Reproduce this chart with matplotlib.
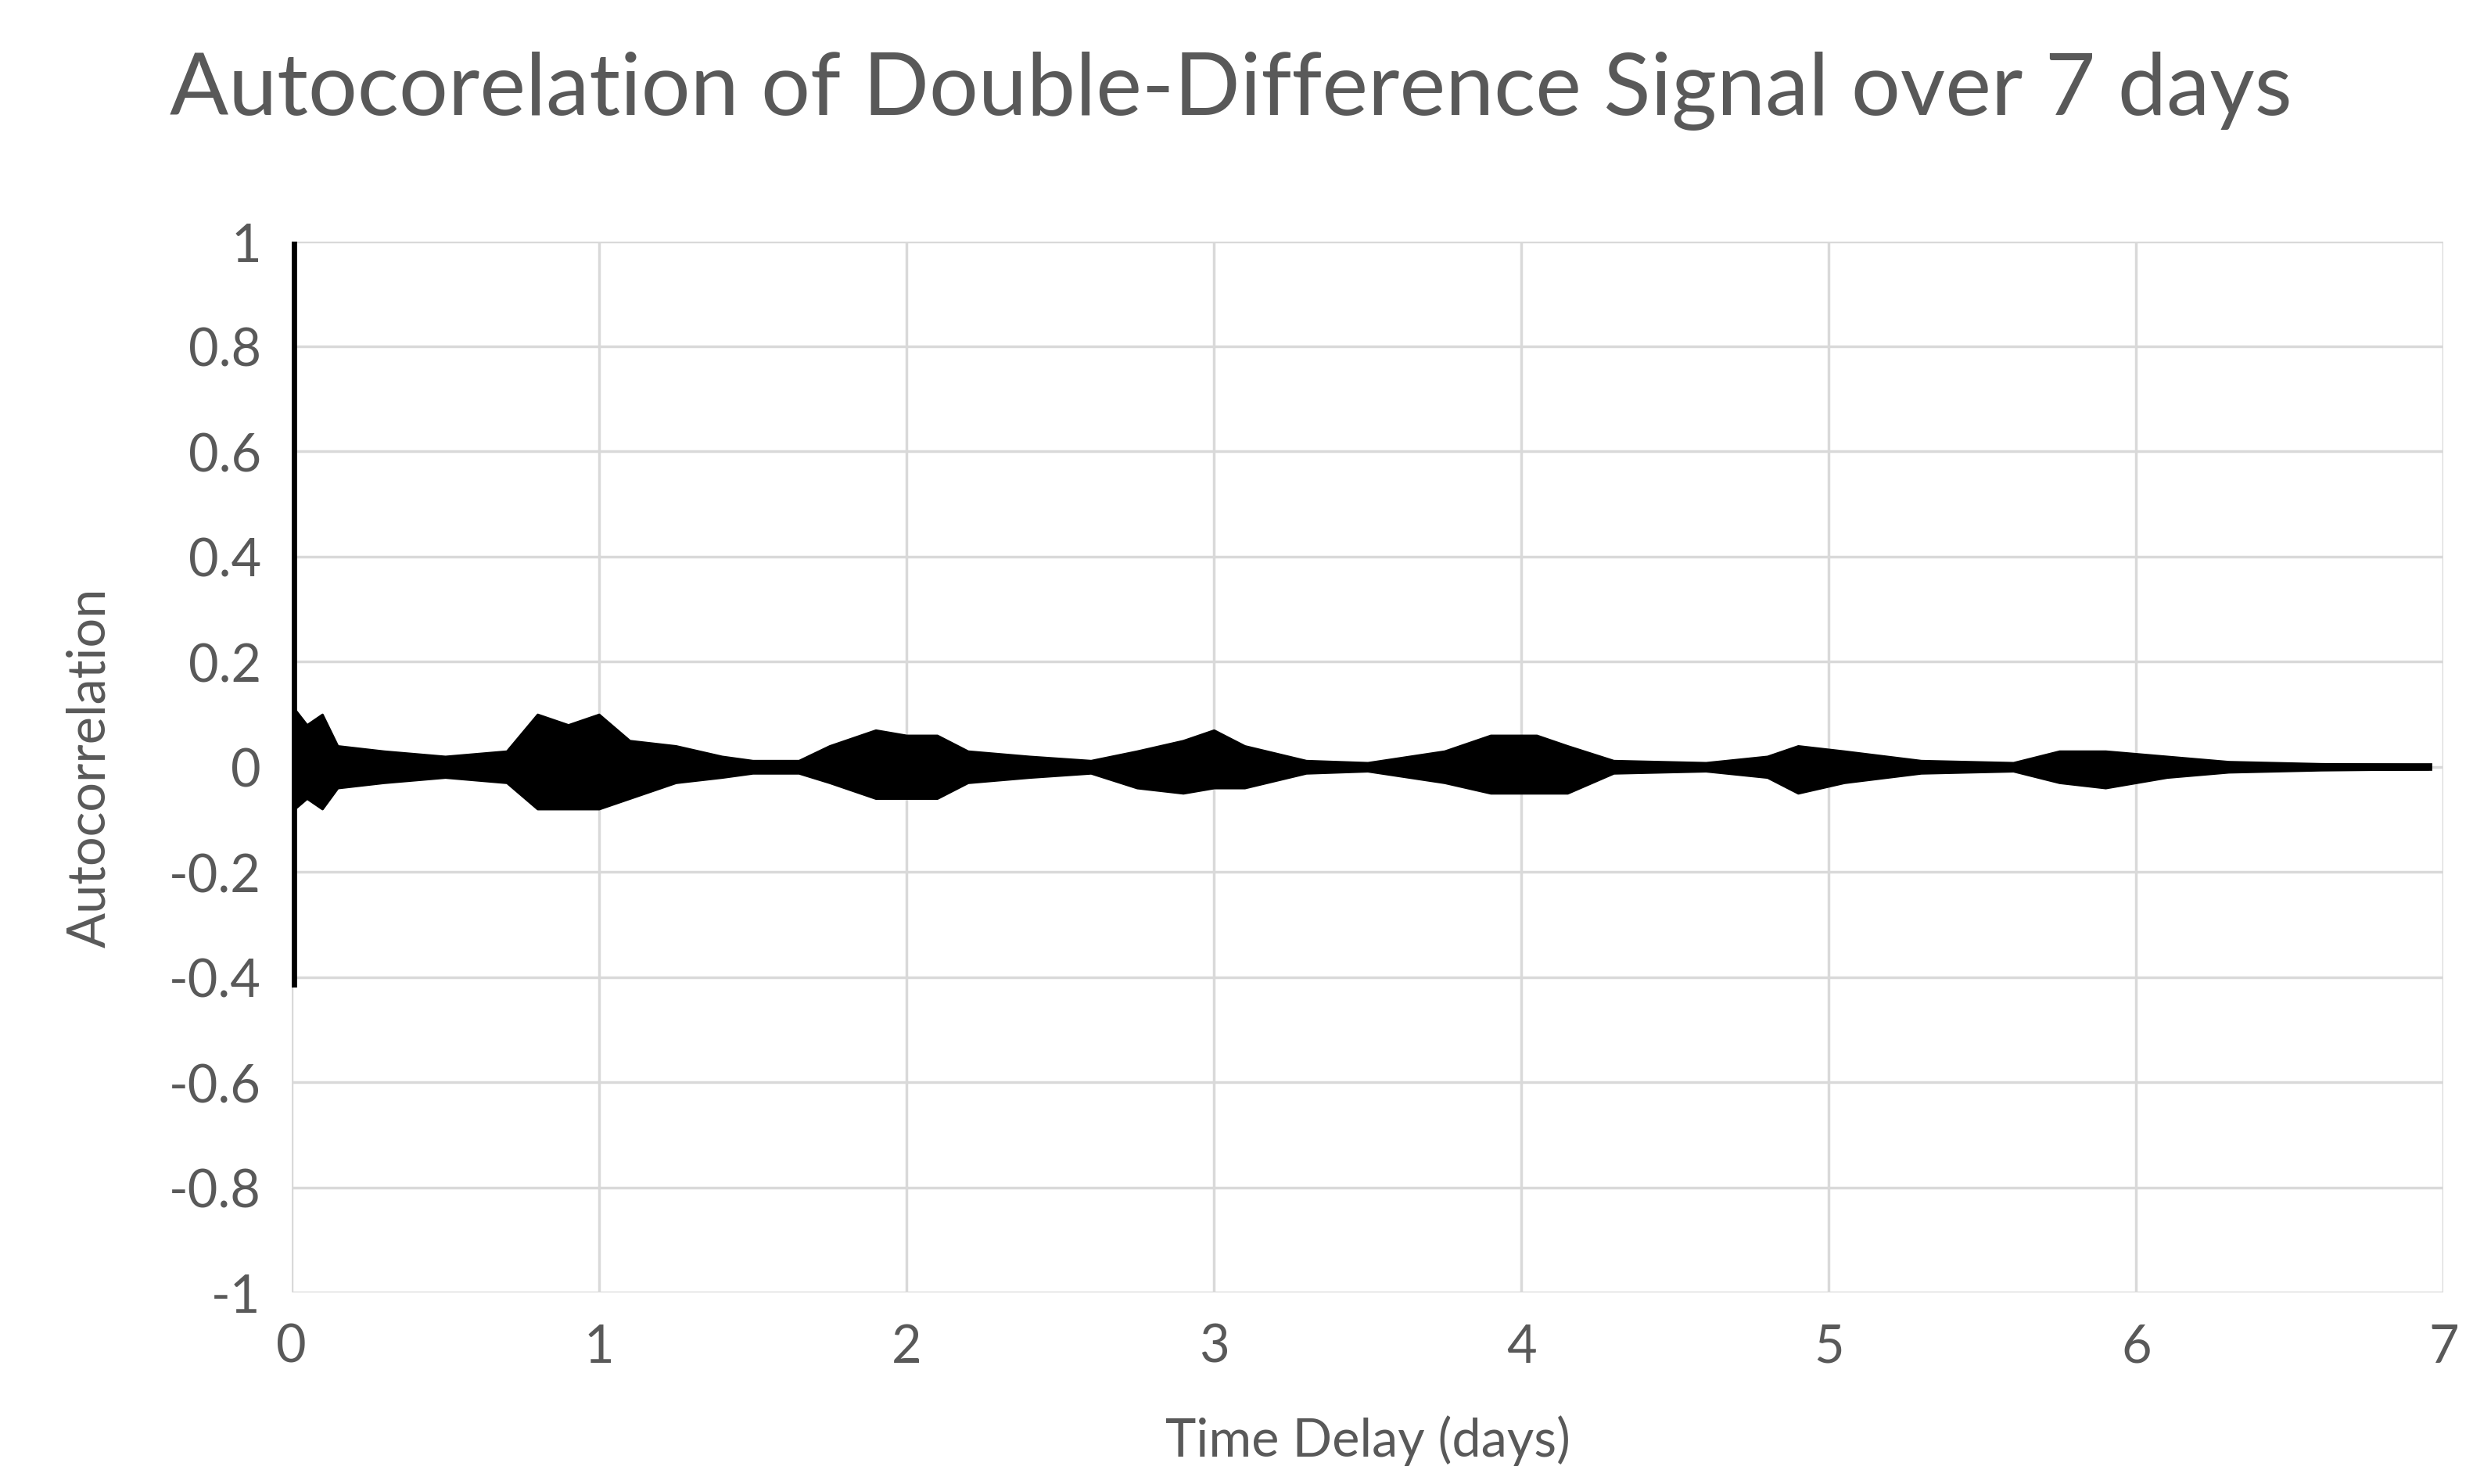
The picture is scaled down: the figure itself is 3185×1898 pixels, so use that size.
import numpy as np
import matplotlib.pyplot as plt

plt.rcParams['font.family'] = ['Lato', 'DejaVu Sans']

# envelope of the autocorrelation trace (days, upper, lower)
lag = [0.01, 0.05, 0.1, 0.15, 0.3, 0.5, 0.7, 0.8, 0.9, 1.0, 1.1, 1.25, 1.4, 1.5, 1.65,
       1.75, 1.9, 2.0, 2.1, 2.2, 2.4, 2.6, 2.75, 2.9, 3.0, 3.1, 3.3, 3.5, 3.75, 3.9,
       4.05, 4.15, 4.3, 4.6, 4.8, 4.9, 5.05, 5.3, 5.6, 5.75, 5.9, 6.1, 6.3, 6.6, 6.95]
upper = [0.11, 0.08, 0.10, 0.04, 0.03, 0.02, 0.03, 0.10, 0.08, 0.10, 0.05, 0.04, 0.02, 0.012, 0.012,
         0.04, 0.07, 0.06, 0.06, 0.03, 0.02, 0.012, 0.03, 0.05, 0.07, 0.04, 0.012, 0.008, 0.03, 0.06,
         0.06, 0.04, 0.012, 0.008, 0.02, 0.04, 0.03, 0.012, 0.008, 0.03, 0.03, 0.02, 0.01, 0.006, 0.004]
lower = [-0.08, -0.06, -0.08, -0.04, -0.03, -0.02, -0.03, -0.08, -0.08, -0.08, -0.06, -0.03, -0.02, -0.012, -0.012,
         -0.03, -0.06, -0.06, -0.06, -0.03, -0.02, -0.012, -0.04, -0.05, -0.04, -0.04, -0.012, -0.008, -0.03, -0.05,
         -0.05, -0.05, -0.012, -0.008, -0.02, -0.05, -0.03, -0.012, -0.008, -0.03, -0.04, -0.02, -0.01, -0.006, -0.004]
spike_top, spike_bottom = 1.0, -0.42

grey = '#595959'
fig = plt.figure(figsize=(31.85, 18.99), dpi=100)
ax = fig.add_axes([0.117, 0.129, 0.864, 0.708])

ax.fill_between(lag, upper, lower, color='black', lw=2)
ax.plot([lag[0], lag[-1]], [0, 0], color='black', lw=7)
ax.vlines(0.005, spike_bottom, spike_top, color='black', lw=7)

ax.set_xlim(0, 7)
ax.set_ylim(-1, 1)
ax.set_xticks(range(8))
ax.set_yticks(np.round(np.arange(-1, 1.01, 0.2), 1))
ax.set_yticklabels(['-1', '-0.8', '-0.6', '-0.4', '-0.2', '0', '0.2', '0.4', '0.6', '0.8', '1'])
ax.grid(color='#d9d9d9', lw=2.5)
ax.set_axisbelow(True)
for s in ax.spines.values():
    s.set_visible(False)
ax.tick_params(length=0, labelsize=48, colors=grey, pad=28)
ax.set_xlabel('Time Delay (days)', fontsize=48, color=grey, labelpad=40)
ax.set_ylabel('Autocorrelation', fontsize=48, color=grey, labelpad=50)
fig.suptitle('Autocorelation of Double-Difference Signal over 7 days',
             fontsize=80, color=grey, x=0.494, y=0.965)

fig.savefig('out.png')
